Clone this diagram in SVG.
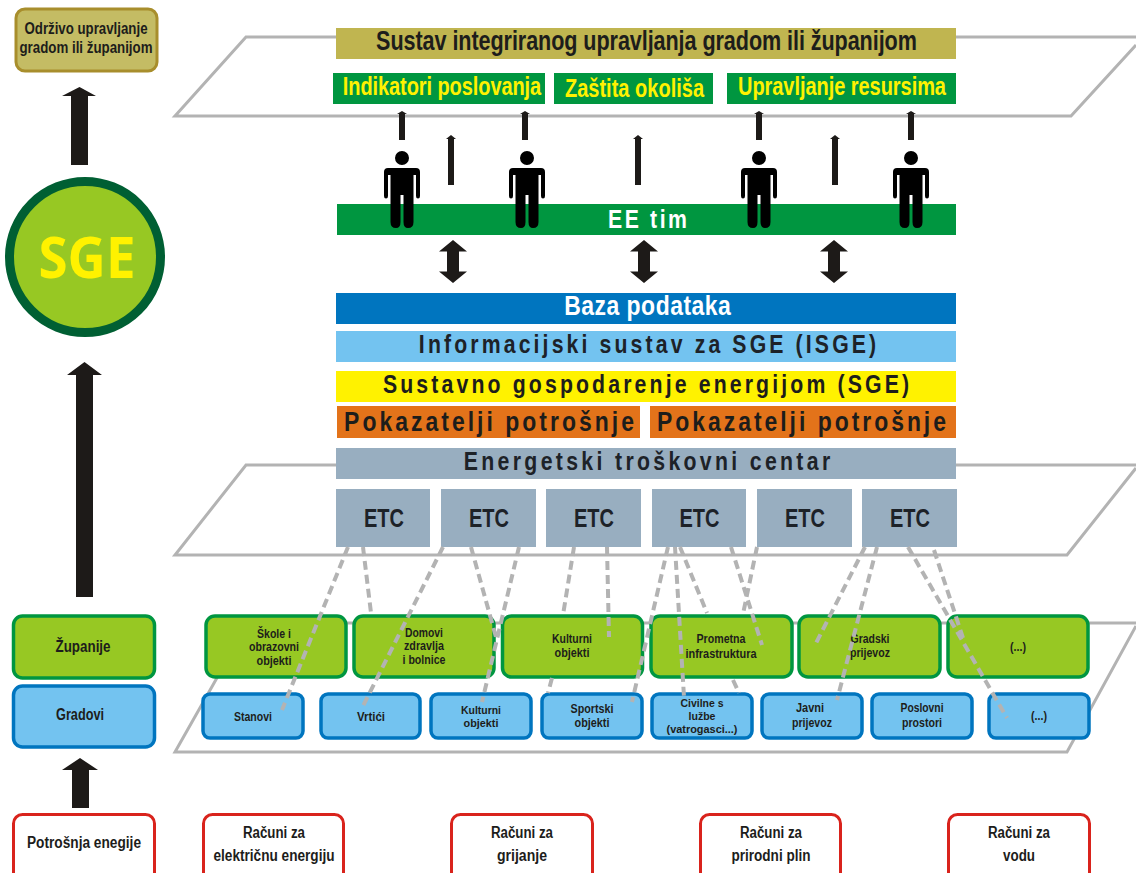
<svg xmlns="http://www.w3.org/2000/svg" width="1136" height="873" viewBox="0 0 1136 873">
<style>
text{font-family:"Liberation Sans",Arial,sans-serif;font-weight:700;text-anchor:middle;fill:#1d1d1b}
.plane{fill:none;stroke:#b3b3b3;stroke-width:3}
.gn{fill:#97c823;stroke:#009640;stroke-width:3.500}
.bl{fill:#73c3f0;stroke:#0075bf;stroke-width:3.500}
.rd{fill:#fff;stroke:#d9231c;stroke-width:3}
.ar{fill:#1d1a18}
.dash{fill:none;stroke:#b3b3b3;stroke-width:4;stroke-dasharray:9 5}
.y{fill:#fff200}
.w{fill:#fff}
.n{fill:#1d2228}
.s10{font-size:11.500px}
.s11{font-size:13px}
.s14{font-size:16px}
.s23{font-size:25px}
.s27{font-size:27px}
</style>
<defs>
<path id="person" d="M0-8a7 7 0 1 1 0 14a7 7 0 1 1 0-14ZM-14 9H14Q18 9 18 13V37Q18 39.500 16 39.500Q14 39.500 14 37V16H11.500V63Q11.500 69 6 69Q1.500 69 1.500 63V36H-1.500V63Q-1.500 69-6 69Q-11.500 69-11.500 63V16H-14V37Q-14 39.500-16 39.500Q-18 39.500-18 37V13Q-18 9-14 9Z" fill="#000"/>
<path id="dbl" d="M0-21.500L14-10H6V10H14L0 21.500L-14 10H-6V-10H-14Z" class="ar"/>
</defs>
<g id="planes">
<path class="plane" d="M1136 37H246L175 116H1071L1136 45"/>
<path class="plane" d="M1136 465H246L175 555H1067L1136 468"/>
<path class="plane" d="M1136 623H248L175 752H1067L1136 626"/>
</g>
<g id="goal"><rect x="16" y="9" width="141" height="62" rx="9" fill="#c4bc64" stroke="#a88e2c" stroke-width="3"/>
<text class="s14" x="86" y="34" textLength="123" lengthAdjust="spacingAndGlyphs">Održivo upravljanje</text>
<text class="s14" x="86" y="53" textLength="133" lengthAdjust="spacingAndGlyphs">gradom ili županijom</text></g>
<g id="sge"><circle cx="85" cy="257" r="75.500" fill="#97c823" stroke="#005f33" stroke-width="9"/>
<text class="y" x="87" y="278" font-size="58" style="font-family:'Open Sans',sans-serif;font-weight:700" textLength="97" lengthAdjust="spacingAndGlyphs">SGE</text></g>
<g id="zupanije"><rect x="13.500" y="616" width="141" height="62" rx="9" class="gn"/><text class="s14" x="83" y="652" textLength="55" lengthAdjust="spacingAndGlyphs">Županije</text></g>
<g id="gradovi"><rect x="13.500" y="686" width="141" height="61" rx="9" class="bl"/><text class="s14" x="80" y="720" textLength="48" lengthAdjust="spacingAndGlyphs">Gradovi</text></g>
<g id="sustav"><rect x="336" y="28" width="620" height="31" fill="#c0b550"/><text class="s27" transform="translate(646.500 50) scale(.8 1)" textLength="676" lengthAdjust="spacing">Sustav integriranog upravljanja gradom ili županijom</text></g>
<g id="indikatori"><rect x="333" y="73" width="212" height="31" fill="#009640"/><text class="s23 y" transform="translate(442 95) scale(.8 1)" textLength="248" lengthAdjust="spacing">Indikatori poslovanja</text></g>
<g id="zastita"><rect x="554" y="73" width="159" height="31" fill="#009640"/><text class="s23 y" transform="translate(634.500 97) scale(.8 1)" textLength="174" lengthAdjust="spacing">Zaštita okoliša</text></g>
<g id="resursi"><rect x="727" y="73" width="229" height="31" fill="#009640"/><text class="s23 y" transform="translate(842 95) scale(.8 1)" textLength="260" lengthAdjust="spacing">Upravljanje resursima</text></g>
<g id="eetim"><rect x="337" y="204" width="619" height="31" fill="#009640"/><text class="s23 w" transform="translate(647.500 228) scale(.85 1)" textLength="93" lengthAdjust="spacing">EE tim</text></g>
<g id="baza"><rect x="336" y="293" width="620" height="31" fill="#0075bf"/><text class="s27 w" transform="translate(647.500 315) scale(.85 1)" textLength="196" lengthAdjust="spacing">Baza podataka</text></g>
<g id="isge"><rect x="336" y="331" width="620" height="31" fill="#73c3f0"/><text class="s23 n" transform="translate(647.500 353) scale(.85 1)" textLength="538" lengthAdjust="spacing">Informacijski sustav za SGE (ISGE)</text></g>
<g id="sgebar"><rect x="336" y="371" width="620" height="31" fill="#fff200"/><text class="s23" transform="translate(646 393) scale(.85 1)" textLength="619" lengthAdjust="spacing">Sustavno gospodarenje energijom (SGE)</text></g>
<g id="pok1"><rect x="337" y="406" width="303" height="32" fill="#e3731a"/><text class="s27" transform="translate(489 431) scale(.85 1)" textLength="341" lengthAdjust="spacing">Pokazatelji potrošnje</text></g>
<g id="pok2"><rect x="650" y="406" width="306" height="32" fill="#e3731a"/><text class="s27" transform="translate(801.500 431) scale(.85 1)" textLength="340" lengthAdjust="spacing">Pokazatelji potrošnje</text></g>
<g id="etc-bar"><rect x="336" y="448" width="620" height="31" fill="#98aec0"/><text class="s23 n" transform="translate(647 470) scale(.85 1)" textLength="431" lengthAdjust="spacing">Energetski troškovni centar</text></g>
<g id="etc1"><rect x="336" y="489" width="94" height="58" fill="#98aec0"/><text class="s23 n" x="384" y="527" textLength="40" lengthAdjust="spacingAndGlyphs">ETC</text></g>
<g id="etc2"><rect x="441" y="489" width="95" height="58" fill="#98aec0"/><text class="s23 n" x="489" y="527" textLength="40" lengthAdjust="spacingAndGlyphs">ETC</text></g>
<g id="etc3"><rect x="546" y="489" width="95" height="58" fill="#98aec0"/><text class="s23 n" x="594" y="527" textLength="40" lengthAdjust="spacingAndGlyphs">ETC</text></g>
<g id="etc4"><rect x="652" y="489" width="94" height="58" fill="#98aec0"/><text class="s23 n" x="699.500" y="527" textLength="40" lengthAdjust="spacingAndGlyphs">ETC</text></g>
<g id="etc5"><rect x="757" y="489" width="95" height="58" fill="#98aec0"/><text class="s23 n" x="805" y="527" textLength="40" lengthAdjust="spacingAndGlyphs">ETC</text></g>
<g id="etc6"><rect x="862" y="489" width="95" height="58" fill="#98aec0"/><text class="s23 n" x="910" y="527" textLength="40" lengthAdjust="spacingAndGlyphs">ETC</text></g>
<g id="g1"><rect x="206" y="616" width="140" height="61" rx="9" class="gn"/><text class="s11" x="274" y="638" textLength="34" lengthAdjust="spacingAndGlyphs">Škole i</text><text class="s11" x="274" y="651" textLength="50" lengthAdjust="spacingAndGlyphs">obrazovni</text><text class="s11" x="274" y="665" textLength="35" lengthAdjust="spacingAndGlyphs">objekti</text></g>
<g id="g2"><rect x="354" y="616" width="140" height="61" rx="9" class="gn"/><text class="s11" x="424" y="637" textLength="38" lengthAdjust="spacingAndGlyphs">Domovi</text><text class="s11" x="424" y="650" textLength="40" lengthAdjust="spacingAndGlyphs">zdravlja</text><text class="s11" x="424" y="664" textLength="43" lengthAdjust="spacingAndGlyphs">i bolnice</text></g>
<g id="g3"><rect x="502.500" y="616" width="140" height="61" rx="9" class="gn"/><text class="s11" x="572" y="643" textLength="40" lengthAdjust="spacingAndGlyphs">Kulturni</text><text class="s11" x="572" y="657" textLength="35" lengthAdjust="spacingAndGlyphs">objekti</text></g>
<g id="g4"><rect x="651" y="616" width="141" height="61" rx="9" class="gn"/><text class="s11" x="721" y="643" textLength="49" lengthAdjust="spacingAndGlyphs">Prometna</text><text class="s11" x="721" y="658" textLength="71" lengthAdjust="spacingAndGlyphs">infrastruktura</text></g>
<g id="g5"><rect x="799" y="616" width="141" height="61" rx="9" class="gn"/><text class="s11" x="870" y="643" textLength="39" lengthAdjust="spacingAndGlyphs">Gradski</text><text class="s11" x="870" y="657" textLength="40" lengthAdjust="spacingAndGlyphs">prijevoz</text></g>
<g id="g6"><rect x="948" y="616" width="140" height="61" rx="9" class="gn"/><text class="s11" x="1018" y="651" textLength="16" lengthAdjust="spacingAndGlyphs">(...)</text></g>
<g id="b1"><rect x="203" y="694" width="100" height="44" rx="7" class="bl"/><text class="s11" x="253" y="721" textLength="38" lengthAdjust="spacingAndGlyphs">Stanovi</text></g>
<g id="b2"><rect x="321" y="694" width="99" height="44" rx="7" class="bl"/><text class="s11" x="371" y="721" textLength="28" lengthAdjust="spacingAndGlyphs">Vrtići</text></g>
<g id="b3"><rect x="431" y="694" width="100" height="44" rx="7" class="bl"/><text class="s10" x="481" y="714" textLength="40" lengthAdjust="spacingAndGlyphs">Kulturni</text><text class="s10" x="481" y="726.500" textLength="35" lengthAdjust="spacingAndGlyphs">objekti</text></g>
<g id="b4"><rect x="542" y="694" width="100" height="44" rx="7" class="bl"/><text class="s11" x="592" y="713" textLength="43" lengthAdjust="spacingAndGlyphs">Sportski</text><text class="s11" x="592" y="727" textLength="35" lengthAdjust="spacingAndGlyphs">objekti</text></g>
<g id="b5"><rect x="652" y="694" width="100" height="44" rx="7" class="bl"/><text class="s10" x="702" y="707" textLength="43" lengthAdjust="spacingAndGlyphs">Civilne s</text><text class="s10" x="702" y="719.500" textLength="27" lengthAdjust="spacingAndGlyphs">lužbe</text><text class="s10" x="702" y="733" textLength="71" lengthAdjust="spacingAndGlyphs">(vatrogasci...)</text></g>
<g id="b6"><rect x="762" y="694" width="100" height="44" rx="7" class="bl"/><text class="s11" x="810" y="712" textLength="28" lengthAdjust="spacingAndGlyphs">Javni</text><text class="s11" x="812" y="727" textLength="40" lengthAdjust="spacingAndGlyphs">prijevoz</text></g>
<g id="b7"><rect x="872" y="694" width="100" height="44" rx="7" class="bl"/><text class="s11" x="922" y="712" textLength="43" lengthAdjust="spacingAndGlyphs">Poslovni</text><text class="s11" x="922" y="727" textLength="40" lengthAdjust="spacingAndGlyphs">prostori</text></g>
<g id="b8"><rect x="989" y="694" width="100" height="44" rx="7" class="bl"/><text class="s11" x="1039" y="720" textLength="16" lengthAdjust="spacingAndGlyphs">(...)</text></g>
<g id="r1"><rect x="13.500" y="814.500" width="141" height="70" rx="9" class="rd"/><text class="s14" x="84" y="848" textLength="114" lengthAdjust="spacingAndGlyphs">Potrošnja enegije</text></g>
<g id="r2"><rect x="203.500" y="814.500" width="140" height="70" rx="9" class="rd"/><text class="s14" x="274" y="838" textLength="62" lengthAdjust="spacingAndGlyphs">Računi za</text><text class="s14" x="274" y="861" textLength="121" lengthAdjust="spacingAndGlyphs">električnu energiju</text></g>
<g id="r3"><rect x="451.500" y="814.500" width="141" height="70" rx="9" class="rd"/><text class="s14" x="522" y="838" textLength="62" lengthAdjust="spacingAndGlyphs">Računi za</text><text class="s14" x="522" y="861" textLength="50" lengthAdjust="spacingAndGlyphs">grijanje</text></g>
<g id="r4"><rect x="700.500" y="814.500" width="140" height="70" rx="9" class="rd"/><text class="s14" x="771" y="838" textLength="62" lengthAdjust="spacingAndGlyphs">Računi za</text><text class="s14" x="771" y="861" textLength="79" lengthAdjust="spacingAndGlyphs">prirodni plin</text></g>
<g id="r5"><rect x="948.500" y="814.500" width="141" height="70" rx="9" class="rd"/><text class="s14" x="1019" y="838" textLength="62" lengthAdjust="spacingAndGlyphs">Računi za</text><text class="s14" x="1019" y="861" textLength="32" lengthAdjust="spacingAndGlyphs">vodu</text></g>
<g id="people">
<use href="#person" x="402" y="159"/><use href="#person" x="527" y="159"/><use href="#person" x="759" y="159"/><use href="#person" x="911" y="159"/>
</g>
<g id="connectors">
<path class="dash" d="M348 547L282 710M363 547L371 613M443 547L363 706M471 547L496 637M519 547L482 702M574 547L563 615M552 678L548 693M607 547L609 637M668 547L632 702M675 547L684 697M680 547L707 613M733 680L739 693M731 547L762 645M757 547L743 614M865 547L815 645M877 547L837 700M908 547L1007 718M934 550L963 638"/>
<path class="ar" d="M71 165V96H62L79.500 87L96 96H88V165ZM76 597V375H67L84.500 362L102 375H93V597ZM72 808V770H62L80 758L98 770H89V808Z"/>
<path class="ar" d="M399 140V114H397L402 111L407 114H405V140ZM522 140V114H520L525 111L530 114H528V140ZM756 140V114H754L759 111L764 114H762V140ZM908 140V114H906L911 111L916 114H914V140ZM448 185V139H446L451 135L456 139H454V185ZM635 185V139H633L638 135L643 139H641V185ZM832 185V139H830L835 135L840 139H838V185Z"/>
<use href="#dbl" x="453" y="261.500"/><use href="#dbl" x="644" y="261.500"/><use href="#dbl" x="834" y="261.500"/>
</g>
</svg>
